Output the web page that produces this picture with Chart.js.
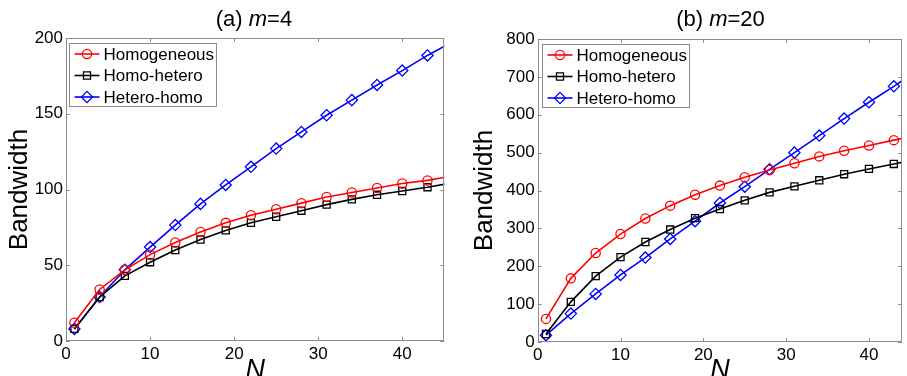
<!DOCTYPE html>
<html><head><meta charset="utf-8">
<script src="https://cdn.jsdelivr.net/npm/chart.js@4.4.1/dist/chart.umd.min.js"></script>
<style>
html,body{margin:0;padding:0;background:#fff;overflow:hidden;width:907px;height:376px;}
#wrapA{position:absolute;left:0;top:0;width:460px;height:376px;}
#wrapB{position:absolute;left:460px;top:0;width:449px;height:376px;}
canvas{display:block;}
</style></head><body>
<div id="wrapA"><canvas id="cA" width="460" height="376"></canvas></div>
<div id="wrapB"><canvas id="cB" width="449" height="376"></canvas></div>
<script>
// ---- data ----
const nValues = [1,4,7,10,13,16,19,22,25,28,31,34,37,40,43,46];
const seriesNames = ['Homogeneous','Homo-hetero','Hetero-homo'];

const homogeneousM4 = [12,34,47,57,65,72,78,83,87,91,95,98,101,104,106,109];
const homoHeteroM4  = [8,29,43,52,60,67,73,78,82,86,90,93.5,96.5,99,101.5,104.5];
const heteroHomoM4  = [8,29,47,62,76.5,90.5,103,115,127,138,149,159,169,178.5,188.5,197.5];

const homogeneousM20 = [61,168,235,285,326,360,389,413,435,454,472,490,505,519,533,546];
const homoHeteroM20  = [21,106,174,224,264,297,327,351,374,395,411,427,443,457,470,483];
const heteroHomoM20  = [18,75,127,177,223,272,319,367,410,456,500,545,590,633,675,718];

const xTicksA = [0,10,20,30,40];
const yTicksA = [0,50,100,150,200];
const xTicksB = [0,10,20,30,40];
const yTicksB = [0,100,200,300,400,500,600,700,800];

const titleA = ['(a) ','m','=4'];
const titleB = ['(b) ','m','=20'];
const yLabel = 'Bandwidth';
const xLabel = 'N';

// ---- styling ----
const FONT = "'Liberation Sans', Arial, sans-serif";
const COLORS = ['#ff0000','#000000','#0000ff'];
const STYLES = ['circle','rect','rectRot'];
const RADII = [4.6,5,5.6];
const FRAME = '#8c8c8c';

function mkDatasets(arrs){
  return arrs.map((vals,i)=>({
    label: seriesNames[i],
    data: nValues.map((n,k)=>({x:n,y:vals[k]})),
    borderColor: COLORS[i],
    backgroundColor: 'rgba(0,0,0,0)',
    pointBackgroundColor: 'rgba(0,0,0,0)',
    pointBorderColor: COLORS[i],
    pointStyle: STYLES[i],
    pointRadius: RADII[i],
    pointBorderWidth: 1.3,
    borderWidth: 1.6,
    tension: 0,
    fill: false
  }));
}

function drawMarker(ctx, style, x, y, r){
  ctx.beginPath();
  if(style==='circle'){ ctx.arc(x,y,r,0,Math.PI*2); }
  else if(style==='rect'){ const s=r*Math.SQRT1_2; ctx.rect(x-s,y-s,2*s,2*s); }
  else { ctx.moveTo(x,y-r); ctx.lineTo(x+r,y); ctx.lineTo(x,y+r); ctx.lineTo(x-r,y); ctx.closePath(); }
  ctx.stroke();
}

const decorPlugin = {
  id: 'decor',
  afterDraw(chart, args, opts){
    const ctx = chart.ctx;
    const a = chart.chartArea;
    const xs = chart.scales.x, ys = chart.scales.y;
    ctx.save();
    // frame
    ctx.strokeStyle = FRAME; ctx.lineWidth = 1;
    ctx.beginPath();
    ctx.moveTo(Math.round(a.left)+0.5, Math.round(a.top)+0.5);
    ctx.lineTo(Math.round(a.right)-0.5, Math.round(a.top)+0.5);
    ctx.lineTo(Math.round(a.right)-0.5, Math.round(a.bottom)-0.5);
    ctx.lineTo(Math.round(a.left)+0.5, Math.round(a.bottom)-0.5);
    ctx.closePath();
    ctx.stroke();
    // inward ticks on all four sides
    const TL = 4;
    ctx.beginPath();
    opts.xTicks.forEach(v=>{
      const px = Math.round(xs.getPixelForValue(v))+0.5;
      ctx.moveTo(px, a.bottom); ctx.lineTo(px, a.bottom-TL);
      ctx.moveTo(px, a.top); ctx.lineTo(px, a.top+TL);
    });
    opts.yTicks.forEach(v=>{
      const py = Math.round(ys.getPixelForValue(v))+0.5;
      ctx.moveTo(a.left, py); ctx.lineTo(a.left+TL, py);
      ctx.moveTo(a.right, py); ctx.lineTo(a.right-TL, py);
    });
    ctx.stroke();
    // title with italic m
    const parts = opts.title;
    const normal = "22px " + FONT, ital = "italic 22px " + FONT;
    ctx.fillStyle = '#000';
    ctx.textBaseline = 'middle';
    ctx.textAlign = 'left';
    const fonts = [normal, ital, normal];
    let widths = parts.map((p,i)=>{ctx.font=fonts[i]; return ctx.measureText(p).width;});
    let total = widths.reduce((s,w)=>s+w,0);
    let tx = opts.titleCenter - total/2;
    parts.forEach((p,i)=>{ ctx.font=fonts[i]; ctx.fillText(p, tx, opts.titleY); tx += widths[i]; });
    // legend
    const bx = Math.round(a.left + opts.legDx)+0.5, by = Math.round(a.top + 4.5)+0.5;
    const bw = 147, bh = 63;
    ctx.fillStyle = '#fff';
    ctx.fillRect(bx, by, bw, bh);
    ctx.strokeStyle = FRAME; ctx.lineWidth = 1;
    ctx.strokeRect(bx, by, bw, bh);
    ctx.font = "17px " + FONT;
    ctx.textBaseline = 'middle';
    const rowsY = [10.5, 32, 53.5];
    chart.data.datasets.forEach((ds,i)=>{
      const ry = by + rowsY[i];
      ctx.strokeStyle = ds.borderColor; ctx.lineWidth = 1.6;
      ctx.beginPath(); ctx.moveTo(bx+5, ry); ctx.lineTo(bx+30, ry); ctx.stroke();
      ctx.lineWidth = 1.3;
      drawMarker(ctx, ds.pointStyle, bx+17.5, ry, ds.pointRadius);
      ctx.fillStyle = '#000';
      ctx.fillText(ds.label, bx+34, ry+1);
    });
    ctx.restore();
  }
};

function makeChart(id, arrs, cfg){
  return new Chart(document.getElementById(id), {
    type: 'line',
    data: { datasets: mkDatasets(arrs) },
    plugins: [decorPlugin],
    options: {
      responsive: false,
      animation: false,
      devicePixelRatio: 1,
      layout: { padding: { top: cfg.top, left: 0, right: cfg.right, bottom: 0 } },
      plugins: {
        legend: { display: false },
        title: { display: false },
        tooltip: { enabled: false },
        decor: { xTicks: cfg.xTicks, yTicks: cfg.yTicks, title: cfg.title, titleCenter: cfg.titleCenter, titleY: 20, legDx: cfg.legDx }
      },
      scales: {
        x: {
          type: 'linear', min: 0, max: cfg.xMax,
          grid: { display: false, drawTicks: false },
          border: { display: false },
          ticks: { stepSize: 10, includeBounds: false, autoSkip: false, maxRotation: 0, color: '#000', padding: 3, font: { family: FONT, size: 17 } },
          title: { display: true, text: xLabel, color: '#000', padding: 0, font: { family: FONT, size: 27, style: 'italic', lineHeight: 0.4 } },
          afterFit: s => { s.height = 376 - cfg.bottom; }
        },
        y: {
          type: 'linear', min: 0, max: cfg.yMax,
          grid: { display: false, drawTicks: false },
          border: { display: false },
          ticks: { stepSize: cfg.yStep, autoSkip: false, color: '#000', padding: 3, font: { family: FONT, size: 17 } },
          title: { display: true, text: yLabel, color: '#000', padding: { top: cfg.yTitlePad, bottom: 0 }, font: { family: FONT, size: 26, lineHeight: 1.2 } },
          afterFit: s => { s.width = cfg.left; }
        }
      }
    }
  });
}

makeChart('cA', [homogeneousM4, homoHeteroM4, heteroHomoM4], {
  xMax: 45, yMax: 200, yStep: 50, xTicks: xTicksA, yTicks: yTicksA,
  top: 38, bottom: 341, left: 66, right: 15.7, yTitlePad: 4.5,
  title: titleA, titleCenter: 254, legDx: 3.3
});
makeChart('cB', [homogeneousM20, homoHeteroM20, heteroHomoM20], {
  xMax: 44, yMax: 800, yStep: 100, xTicks: xTicksB, yTicks: yTicksB,
  top: 39, bottom: 342, left: 77.7, right: 1.3, yTitlePad: 9.5,
  title: titleB, titleCenter: 260.5, legDx: 4
});
</script>
</body></html>
